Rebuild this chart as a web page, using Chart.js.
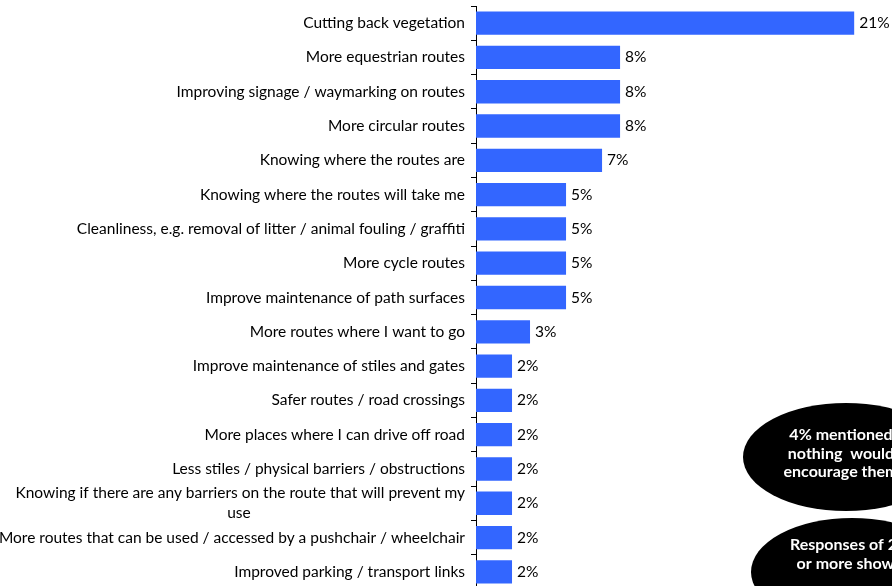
<!DOCTYPE html>
<html>
<head>
<meta charset="utf-8">
<script src="https://cdn.jsdelivr.net/npm/chart.js@4/dist/chart.umd.min.js"></script>
<style>
  html, body { margin: 0; padding: 0; background: #fff; overflow: hidden; width: 892px; height: 586px; }
  #wrap { position: relative; width: 892px; height: 600px; }
</style>
</head>
<body>
<div id="wrap"><canvas id="c" width="892" height="600"></canvas></div>
<script>
// Survey: what would encourage greater use of the rights of way network
const categories = [
  "Cutting back vegetation",
  "More equestrian routes",
  "Improving signage / waymarking on routes",
  "More circular routes",
  "Knowing where the routes are",
  "Knowing where the routes will take me",
  "Cleanliness, e.g. removal of litter / animal fouling / graffiti",
  "More cycle routes",
  "Improve maintenance of path surfaces",
  "More routes where I want to go",
  "Improve maintenance of stiles and gates",
  "Safer routes / road crossings",
  "More places where I can drive off road",
  "Less stiles / physical barriers / obstructions",
  ["Knowing if there are any barriers on the route that will prevent my", "use"],
  "More routes that can be used / accessed by a pushchair / wheelchair",
  "Improved parking / transport links"
];
const shares = [21, 8, 8, 8, 7, 5, 5, 5, 5, 3, 2, 2, 2, 2, 2, 2, 2];
const noteNothing = ["4% mentioned", "nothing  would", "encourage them"];
const noteThreshold = ["Responses of 2%", "or more shown"];

const FONT_FAMILY = "Lato, 'Liberation Sans', sans-serif";
const LABEL_SIZE = 15.5;
const BAR_COLOR = "#3366FF";

// Wrapped category lines are centred on each other, as in a word-processed label:
// pad shorter lines with trailing spaces so right-aligned text appears centred.
const measureCtx = document.createElement("canvas").getContext("2d");
measureCtx.font = LABEL_SIZE + "px " + FONT_FAMILY;
function centreLines(label) {
  if (!Array.isArray(label)) return label;
  const widest = Math.max(...label.map(l => measureCtx.measureText(l).width));
  const space = measureCtx.measureText(" ").width;
  return label.map(l => {
    const gap = (widest - measureCtx.measureText(l).width) / 2;
    return l + " ".repeat(Math.round(gap / space));
  });
}

const valueLabels = {
  id: "valueLabels",
  afterDatasetsDraw(chart) {
    const { ctx } = chart;
    const meta = chart.getDatasetMeta(0);
    ctx.save();
    ctx.font = LABEL_SIZE + "px " + FONT_FAMILY;
    ctx.fillStyle = "#000";
    ctx.textAlign = "left";
    ctx.textBaseline = "middle";
    meta.data.forEach((bar, i) => {
      ctx.fillText(shares[i] + "%", bar.x + 5, bar.y);
    });
    ctx.restore();
  }
};

const notes = {
  id: "notes",
  afterDraw(chart) {
    const { ctx } = chart;
    const bubbles = [
      { cx: 846, cy: 457, rx: 103, ry: 54, tx: 841, lines: noteNothing, top: 435 },
      { cx: 852, cy: 572, rx: 101, ry: 54, tx: 850, lines: noteThreshold, top: 545 }
    ];
    ctx.save();
    bubbles.forEach(b => {
      ctx.beginPath();
      ctx.ellipse(b.cx, b.cy, b.rx, b.ry, 0, 0, Math.PI * 2);
      ctx.fillStyle = "#000";
      ctx.fill();
      ctx.fillStyle = "#fff";
      ctx.font = "bold 16px " + FONT_FAMILY;
      ctx.textAlign = "center";
      ctx.textBaseline = "middle";
      b.lines.forEach((line, i) => ctx.fillText(line, b.tx, b.top + i * 18.5));
    });
    ctx.restore();
  }
};

new Chart(document.getElementById("c"), {
  type: "bar",
  data: {
    labels: categories,
    datasets: [{
      data: shares,
      backgroundColor: BAR_COLOR,
      borderWidth: 0,
      barPercentage: 0.68,
      categoryPercentage: 1.0
    }]
  },
  options: {
    indexAxis: "y",
    responsive: false,
    animation: false,
    devicePixelRatio: 1,
    layout: { padding: { top: 6, bottom: 11, left: 0, right: 0 } },
    plugins: {
      legend: { display: false },
      tooltip: { enabled: false }
    },
    scales: {
      x: {
        display: false,
        min: 0,
        max: 23.1
      },
      y: {
        afterFit(scale) {
          scale.width = 476;
          scale.paddingTop = 0;
          scale.paddingBottom = 0;
        },
        grid: {
          display: true,
          drawOnChartArea: false,
          drawTicks: true,
          tickLength: 5,
          color: "#000",
          offset: true
        },
        border: { display: true, color: "#000", width: 1 },
        ticks: {
          color: "#000",
          padding: 6,
          autoSkip: false,
          font: { family: FONT_FAMILY, size: LABEL_SIZE, lineHeight: 1.28 },
          callback(value) { return centreLines(this.getLabelForValue(value)); }
        }
      }
    }
  },
  plugins: [valueLabels, notes]
});
</script>
</body>
</html>
